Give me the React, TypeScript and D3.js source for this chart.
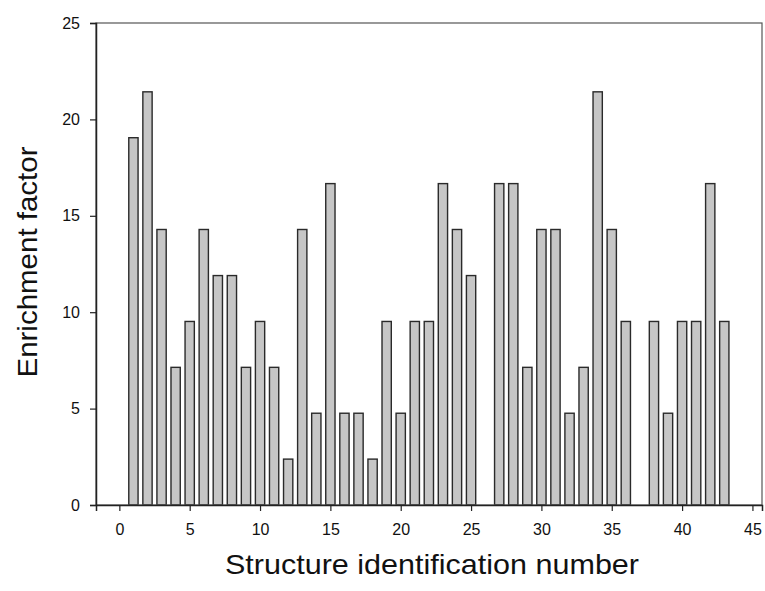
import React, { useEffect, useRef } from "react";
import * as d3 from "d3";

const ids = [1,2,3,4,5,6,7,8,9,10,11,12,13,14,15,16,17,18,19,20,21,22,23,24,25,26,27,28,29,30,31,32,33,34,35,36,37,38,39,40,41,42,43];
const values = [19.05,21.43,14.29,7.14,9.52,14.29,11.9,11.9,7.14,9.52,7.14,2.38,14.29,4.76,16.67,4.76,4.76,2.38,9.52,4.76,9.52,9.52,16.67,14.29,11.9,0,16.67,16.67,7.14,14.29,14.29,4.76,7.14,21.43,14.29,9.52,0,9.52,4.76,9.52,9.52,16.67,9.52];
const xTicks = [0,5,10,15,20,25,30,35,40,45];
const yTicks = [0,5,10,15,20,25];
const xTitle = "Structure identification number";
const yTitle = "Enrichment factor";

export default function App() {
  const ref = useRef<SVGSVGElement>(null);
  useEffect(() => {
    const svg = d3.select(ref.current);
    svg.selectAll("*").remove();
    const L = 96, R = 762, T = 23, B = 505;
    const x = d3.scaleLinear().domain([-1.66, 45.68]).range([L, R]);
    const y = d3.scaleLinear().domain([0, 25]).range([B, T]);
    const bw = x(0.66) - x(0);
    const font = "Arial, 'Liberation Sans', sans-serif";

    svg.append("g").selectAll("rect")
      .data(ids.map((id, i) => ({ id, v: values[i] })).filter(d => d.v > 0))
      .join("rect")
      .attr("x", d => x(d.id) - bw / 2)
      .attr("y", d => y(d.v))
      .attr("width", bw)
      .attr("height", d => y(0) - y(d.v))
      .attr("fill", "#c6c6c6")
      .attr("stroke", "#2a2a2a")
      .attr("stroke-width", 1.4);

    // frame
    svg.append("rect").attr("x", L).attr("y", T).attr("width", R - L).attr("height", B - T)
      .attr("fill", "none").attr("stroke", "#555").attr("stroke-width", 1.2);

    const xa = svg.append("g").attr("transform", `translate(0,${B})`)
      .call(d3.axisBottom(x).tickValues(xTicks).tickSize(6).tickPadding(13).tickFormat(d3.format("d")));
    xa.select(".domain").attr("stroke", "#222").attr("stroke-width", 1.5);
    xa.selectAll(".tick line").attr("stroke", "#222").attr("stroke-width", 1.2);
    xa.selectAll("text").attr("font-size", 16).attr("font-family", font).attr("fill", "#111");

    const ya = svg.append("g").attr("transform", `translate(${L},0)`)
      .call(d3.axisLeft(y).tickValues(yTicks).tickSize(6).tickPadding(10).tickFormat(d3.format("d")));
    ya.select(".domain").attr("stroke", "#222").attr("stroke-width", 1.5);
    ya.selectAll(".tick line").attr("stroke", "#222").attr("stroke-width", 1.2);
    ya.selectAll("text").attr("font-size", 16).attr("font-family", font).attr("fill", "#111");

    svg.append("text").attr("x", 432).attr("y", 574)
      .attr("text-anchor", "middle").attr("font-size", 28).attr("font-family", font).attr("fill", "#111")
      .attr("textLength", 414).attr("lengthAdjust", "spacingAndGlyphs")
      .text(xTitle);
    svg.append("text").attr("transform", `translate(37,262) rotate(-90)`)
      .attr("text-anchor", "middle").attr("font-size", 28).attr("font-family", font).attr("fill", "#111")
      .attr("textLength", 231).attr("lengthAdjust", "spacingAndGlyphs")
      .text(yTitle);
  }, []);
  return (
    <svg ref={ref} width={765} height={591} style={{ position: "absolute", left: 0, top: 0, background: "#fff" }} />
  );
}
